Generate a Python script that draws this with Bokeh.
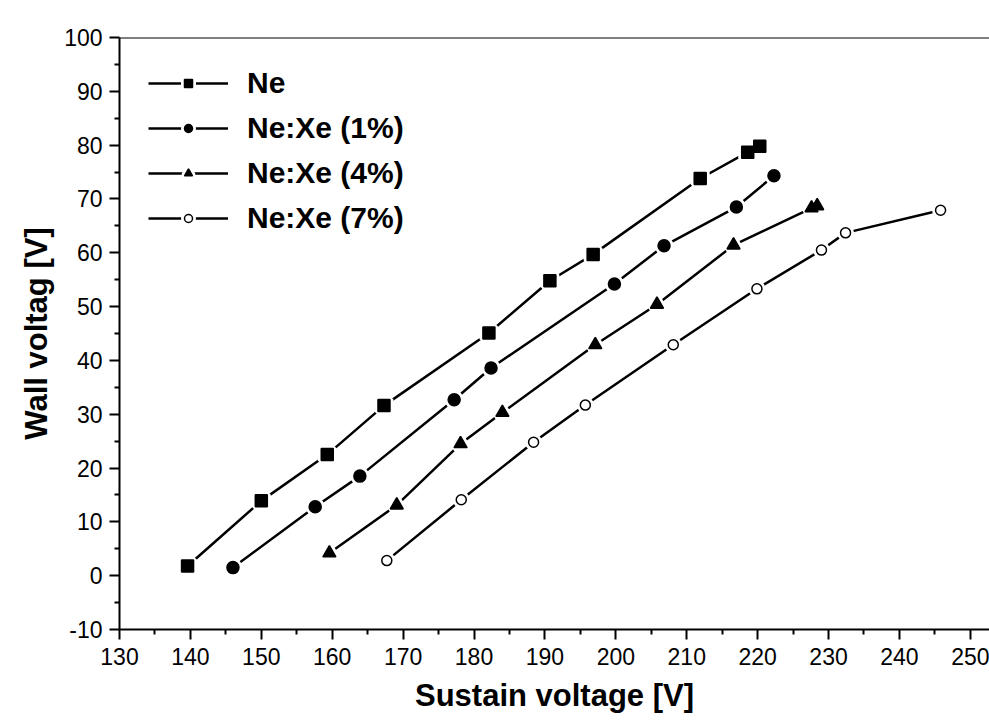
from bokeh.plotting import figure
from bokeh.models import (Range1d, FixedTicker, Legend, LegendItem, Span)
from bokeh.embed import file_html
from bokeh.resources import INLINE

# Data
ne_x = [139.6, 150.0, 159.3, 167.3, 182.1, 190.7, 196.8, 211.9, 218.6, 220.3]
ne_y = [1.8, 13.9, 22.5, 31.6, 45.1, 54.8, 59.7, 73.8, 78.7, 79.8]

xe1_x = [146.0, 157.6, 163.9, 177.2, 182.4, 199.8, 206.8, 217.0, 222.3]
xe1_y = [1.5, 12.8, 18.5, 32.7, 38.6, 54.2, 61.3, 68.5, 74.3]

xe4_x = [159.6, 169.1, 178.1, 184.0, 197.1, 205.8, 216.6, 227.6, 228.4]
xe4_y = [4.2, 13.1, 24.5, 30.3, 42.9, 50.4, 61.4, 68.3, 68.7]

xe7_x = [167.7, 178.2, 188.4, 195.7, 208.1, 219.9, 229.0, 232.4, 245.8]
xe7_y = [2.8, 14.1, 24.8, 31.7, 42.9, 53.3, 60.5, 63.7, 67.9]

x_ticks = list(range(130, 251, 10))
y_ticks = list(range(-10, 101, 10))
x_minor = list(range(135, 256, 10))
y_minor = list(range(-5, 101, 10))
y_tick_labels = {t: str(t) for t in y_ticks}

series = [
    ("Ne", ne_x, ne_y, "square", 12, "black"),
    ("Ne:Xe (1%)", xe1_x, xe1_y, "circle", 12, "black"),
    ("Ne:Xe (4%)", xe4_x, xe4_y, "triangle", 13, "black"),
    ("Ne:Xe (7%)", xe7_x, xe7_y, "circle", 10, "white"),
]

FONT = "Liberation Sans"

p = figure(width=989, height=724, output_backend="svg", toolbar_location=None,
           x_range=Range1d(130, 252.7), y_range=Range1d(-10, 100),
           min_border_left=119, min_border_right=0, min_border_top=37,
           min_border_bottom=95)
p.background_fill_color = "white"
p.border_fill_color = "white"
p.outline_line_color = None
p.xgrid.visible = False
p.ygrid.visible = False

for ax, ticks, minor in ((p.xaxis[0], x_ticks, x_minor), (p.yaxis[0], y_ticks, y_minor)):
    ax.ticker = FixedTicker(ticks=ticks, minor_ticks=minor)
    ax.axis_line_width = 2
    ax.major_tick_line_width = 2
    ax.minor_tick_line_width = 2
    ax.major_tick_out = 10
    ax.major_tick_in = 0
    ax.minor_tick_out = 5
    ax.minor_tick_in = 0
    ax.major_label_text_font = FONT
    ax.major_label_text_font_size = "23px"
    ax.major_label_text_color = "black"
    ax.axis_label_text_font = FONT
    ax.axis_label_text_font_style = "bold"
    ax.axis_label_text_font_size = "31px"
    ax.axis_label_text_color = "black"

p.yaxis.major_label_overrides = y_tick_labels
p.xaxis.axis_label = "Sustain voltage [V]"
p.yaxis.axis_label = "Wall voltag [V]"
p.xaxis.major_label_standoff = 8
p.yaxis.major_label_standoff = 7
p.xaxis.axis_label_standoff = 10
p.yaxis.axis_label_standoff = 7

p.add_layout(Span(location=100, dimension="width", line_color="black", line_width=2))

items = []
for label, xs, ys, marker, size, fill in series:
    ln = p.line(xs, ys, line_color="black", line_width=2.5)
    halo = p.scatter(xs, ys, marker=marker, size=size, fill_color="white",
                     line_color="white", line_width=7)
    mk = p.scatter(xs, ys, marker=marker, size=size, fill_color=fill,
                   line_color="black", line_width=1.5)
    items.append(LegendItem(label=label, renderers=[ln, halo, mk]))

legend = Legend(items=items, location="top_left")
legend.margin = 29
legend.padding = 0
legend.spacing = 11
legend.glyph_width = 80
legend.glyph_height = 20
legend.label_standoff = 19
legend.label_text_font = FONT
legend.label_text_font_style = "bold"
legend.label_text_font_size = "30px"
legend.label_text_color = "black"
legend.border_line_color = None
legend.background_fill_alpha = 0
p.add_layout(legend)

open("out.html", "w").write(file_html(p, INLINE))
